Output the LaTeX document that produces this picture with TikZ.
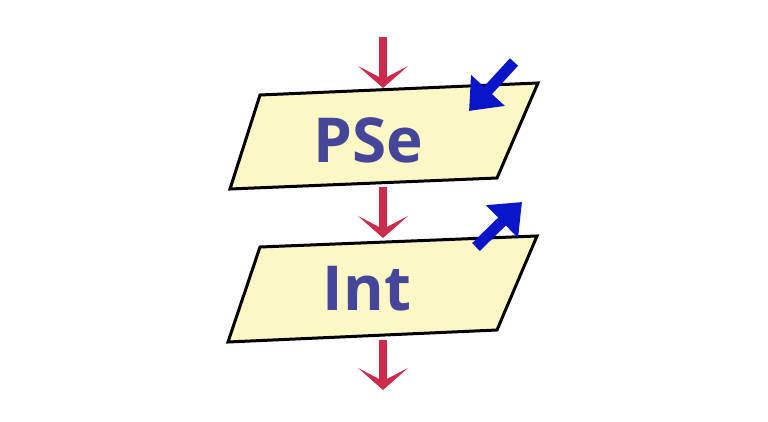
\documentclass[tikz,border=0pt]{standalone}
\usepackage{fontspec}
\setmainfont{Open Sans}
\usetikzlibrary{arrows.meta}
\definecolor{boxfill}{HTML}{FBF8C6}
\definecolor{redarrow}{HTML}{CC2B4A}
\definecolor{bluearrow}{HTML}{0A14C8}
\definecolor{labeltext}{HTML}{45459A}
\tikzset{
  iobox/.style={draw=black,line width=3pt,fill=boxfill,line join=miter},
  flowarrow/.style={draw=redarrow,line width=8pt,-{Stealth[length=22pt,width=50pt,inset=13pt]}},
  iarrow/.style={draw=bluearrow,line width=11pt,-{Triangle[length=28pt,width=44pt]}},
  lbl/.style={text=labeltext,font=\fontsize{62}{62}\selectfont\bfseries,anchor=base,inner sep=0pt}
}
\begin{document}
\begin{tikzpicture}[x=1pt,y=-1pt]
\useasboundingbox (0,0) rectangle (768,422);
\fill[white] (0,0) rectangle (768,422);
% boxes
\draw[iobox] (260,95) -- (538,83) -- (497,178) -- (230,189) -- cycle;
\draw[iobox] (260,247) -- (537,236) -- (497,330) -- (228,342) -- cycle;
\node[lbl] (pse) at (368,163) {PSe};
\node[lbl] (int) at (367,310) {Int};
% coordinates
\coordinate (a1s) at (383,37);
\coordinate (a1e) at (383,88);
\coordinate (a2s) at (383,187);
\coordinate (a2e) at (383,238);
\coordinate (a3s) at (383,340);
\coordinate (a3e) at (383,390);
\coordinate (b1s) at (514,62);
\coordinate (b1e) at (469,111);
\coordinate (b2s) at (476,247);
\coordinate (b2e) at (522,202);
\draw[flowarrow] (a1s) -- (a1e);
\draw[flowarrow] (a2s) -- (a2e);
\draw[flowarrow] (a3s) -- (a3e);
\draw[iarrow] (b1s) -- (b1e);
\draw[iarrow] (b2s) -- (b2e);
\end{tikzpicture}
\end{document}
